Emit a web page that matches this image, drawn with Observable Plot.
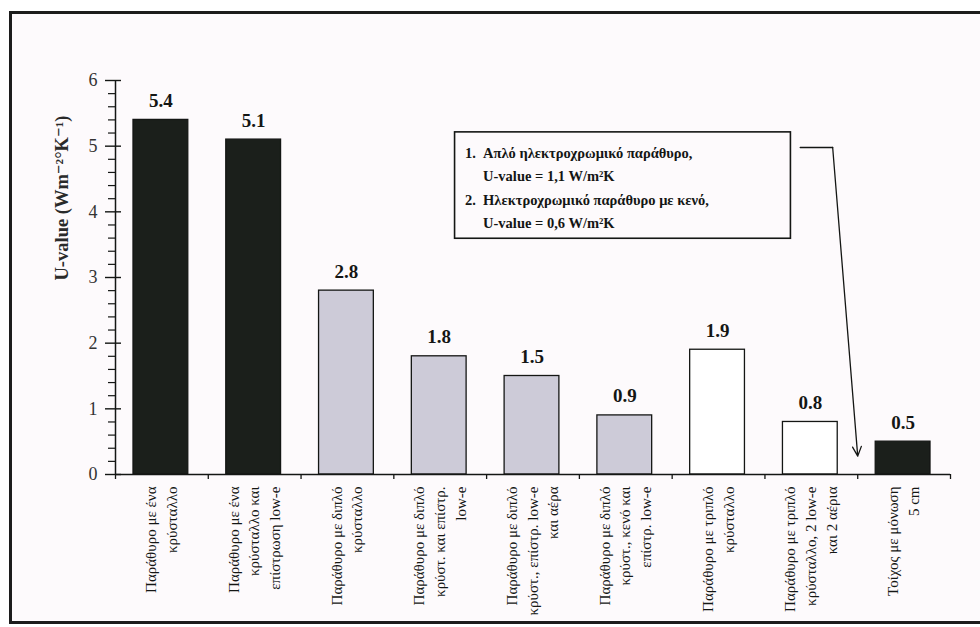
<!DOCTYPE html>
<html>
<head>
<meta charset="utf-8">
<script src="https://cdn.jsdelivr.net/npm/d3@7"></script>
<script src="https://cdn.jsdelivr.net/npm/@observablehq/plot@0.6"></script>
<style>
  html, body { margin: 0; padding: 0; background: #ffffff; overflow: hidden; }
  #panel { position: absolute; left: 9px; top: 11px; width: 1000px; height: 607px;
           border: 3px solid #1c1c1c; border-right: none; background: #fdfafc; }
  #chart { position: absolute; left: 0; top: 0; }
</style>
</head>
<body>
<div id="panel"></div>
<div id="chart"></div>
<script>
// Window / wall constructions and their thermal transmittance (U-value, W/m²K)
const categories = [
  "Παράθυρο με ένα\nκρύσταλλο",
  "Παράθυρο με ένα\nκρύσταλλο και\nεπίστρωση low-e",
  "Παράθυρο με διπλό\nκρύσταλλο",
  "Παράθυρο με διπλό\nκρύστ. και επίστρ.\nlow-e",
  "Παράθυρο με διπλό\nκρύστ., επίστρ. low-e\nκαι αέρα",
  "Παράθυρο με διπλό\nκρύστ., κενό και\nεπίστρ. low-e",
  "Παράθυρο με τριπλό\nκρύσταλλο",
  "Παράθυρο με τριπλό\nκρύσταλλο, 2 low-e\nκαι 2 αέρια",
  "Τοίχος με μόνωση\n5 cm"
];
const uValues = [5.4, 5.1, 2.8, 1.8, 1.5, 0.9, 1.9, 0.8, 0.5];
const valueLabels = ["5.4", "5.1", "2.8", "1.8", "1.5", "0.9", "1.9", "0.8", "0.5"];
const groups = ["dark", "dark", "gray", "gray", "gray", "gray", "white", "white", "dark"];

// Axis ticks
const yMajorTicks = [0, 1, 2, 3, 4, 5, 6];
const yMinorTicks = d3.range(0, 6.001, 0.2).map(v => +v.toFixed(1)).filter(v => !yMajorTicks.includes(v));
const xBoundaryTicks = [0, 1, 2, 3, 4, 5, 6, 7, 8, 9];
const yTitle = "U-value (Wm⁻²°K⁻¹)";

// Electrochromic window note, placed in data coordinates
const noteNumbers = "1.\n\n2.\n";
const noteLines = "Απλό ηλεκτροχρωμικό παράθυρο,\nU-value = 1,1 W/m²K\nΗλεκτροχρωμικό παράθυρο με κενό,\nU-value = 0,6 W/m²K";
const noteBox = [{x1: 3.66, x2: 7.28, y1: 3.59, y2: 5.21}];
const noteLeader = [{x: 7.38, y: 4.98}, {x: 7.73, y: 4.98}];
const noteArrow = [{x1: 7.73, y1: 4.98, x2: 8.0, y2: 0.28}];

const rows = categories.map((label, i) => ({
  i, label, value: uValues[i], text: valueLabels[i], group: groups[i]
}));

const serif = "'Liberation Serif', 'DejaVu Serif', serif";
const ink = "#141614";

const chart = Plot.plot({
  width: 980,
  height: 627,
  marginLeft: 115,
  marginRight: 30,
  marginTop: 80,
  marginBottom: 153,
  style: {background: "transparent", fontFamily: serif, color: ink},
  x: {domain: [0, 9], axis: null},
  y: {domain: [0, 6], axis: null},
  color: {domain: ["dark", "gray", "white"], range: ["#1b1f1b", "#cdcbd8", "#ffffff"]},
  marks: [
    // bars
    Plot.rectY(rows, {
      x1: d => d.i, x2: d => d.i + 1, y: "value",
      fill: "group", stroke: ink, strokeWidth: 1.3,
      insetLeft: 18, insetRight: 20
    }),
    // value labels
    Plot.text(rows, {
      x: d => d.i + 0.5, y: "value", text: "text", dx: -1, dy: -19,
      fontSize: 19, fontWeight: "bold", fill: ink, fontFamily: serif
    }),
    // category labels, rotated under the axis
    Plot.text(rows, {
      x: d => d.i + 0.5, frameAnchor: "bottom", text: "label",
      rotate: -90, textAnchor: "end", lineAnchor: "middle", lineHeight: 1.38,
      dx: -2, dy: 12, fontSize: 15, fill: ink, fontFamily: serif
    }),
    // axis lines
    Plot.ruleX([0], {stroke: ink, strokeWidth: 1.5}),
    Plot.ruleY([0], {stroke: ink, strokeWidth: 1.5}),
    // x ticks at the category boundaries
    Plot.axisX({ticks: xBoundaryTicks, tickSize: 5, tickFormat: () => "", stroke: ink, strokeWidth: 1.3, label: null}),
    // y ticks: majors cross the axis, minors sit on its left
    Plot.ruleY(yMajorTicks, {x1: 0, x2: 0, insetLeft: -10, insetRight: -6, stroke: ink, strokeWidth: 1.4}),
    Plot.ruleY(yMinorTicks, {x1: 0, x2: 0, insetLeft: -7, insetRight: 0, stroke: ink, strokeWidth: 1.2}),
    Plot.axisY({
      ticks: yMajorTicks, tickSize: 0, tickPadding: 18, tickFormat: d => String(d),
      fontSize: 18, fontFamily: serif, fill: "#333", label: null
    }),
    Plot.text([yTitle], {
      frameAnchor: "left", rotate: -90, dx: -53, dy: 3,
      fontSize: 18.5, fontWeight: "bold", fill: "#2a2a2a", fontFamily: serif
    }),
    // note box with leader arrow
    Plot.rect(noteBox, {x1: "x1", x2: "x2", y1: "y1", y2: "y2", fill: "none", stroke: ink, strokeWidth: 1.6}),
    Plot.text([noteNumbers], {
      x: noteBox[0].x1, y: (noteBox[0].y1 + noteBox[0].y2) / 2, dx: 10,
      textAnchor: "start", lineAnchor: "middle", lineHeight: 1.6,
      fontSize: 14.5, fontWeight: "bold", fill: ink, fontFamily: serif
    }),
    Plot.text([noteLines], {
      x: noteBox[0].x1, y: (noteBox[0].y1 + noteBox[0].y2) / 2, dx: 28,
      textAnchor: "start", lineAnchor: "middle", lineHeight: 1.6,
      fontSize: 14.5, fontWeight: "bold", fill: ink, fontFamily: serif
    }),
    Plot.line(noteLeader, {x: "x", y: "y", stroke: ink, strokeWidth: 1.3}),
    Plot.arrow(noteArrow, {
      x1: "x1", y1: "y1", x2: "x2", y2: "y2",
      stroke: ink, strokeWidth: 1.3, headLength: 12, headAngle: 50
    })
  ]
});

document.getElementById("chart").append(chart);
</script>
</body>
</html>
